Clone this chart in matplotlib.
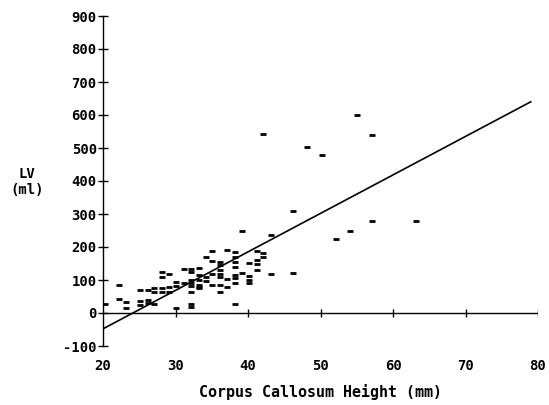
import matplotlib
matplotlib.use("Agg")
import matplotlib.pyplot as plt

# Data (Corpus Callosum Height in mm, LV in ml)
cc_height = [20.3,
             22.2, 22.2,
             23.2, 23.2,
             25.1, 25.1, 25.1,
             26.2, 26.2, 26.2,
             27.1, 27.1, 27.1,
             28.1, 28.1, 28.1, 28.1,
             29.1, 29.1, 29.1,
             30.1, 30.1, 30.1,
             31.2, 31.2,
             32.2, 32.2, 32.2, 32.2, 32.2, 32.2, 32.2, 32.2,
             33.2, 33.2, 33.2, 33.2, 33.2, 33.2,
             34.2, 34.2, 34.2,
             35.1, 35.1, 35.1, 35.1,
             36.1, 36.1, 36.1, 36.1, 36.1, 36.1, 36.1,
             37.1, 37.1, 37.1,
             38.2, 38.2, 38.2, 38.2, 38.2, 38.2, 38.2, 38.2,
             39.2, 39.2,
             40.2, 40.2, 40.2, 40.2,
             41.2, 41.2, 41.2, 41.2,
             42.1, 42.1, 42.1,
             43.2, 43.2,
             46.2, 46.2,
             48.1, 50.2, 52.1, 54.1, 55.0,
             57.1, 57.1,
             63.2]
lv_ml = [26,
         85, 41,
         34, 14,
         70, 37, 24,
         70, 39, 31,
         77, 63, 27,
         125, 110, 77, 63,
         117, 80, 63,
         95, 81, 14,
         133, 90,
         133, 125, 100, 90, 82, 65, 27, 17,
         135, 115, 100, 85, 80, 75,
         171, 110, 98,
         189, 159, 118, 85,
         156, 145, 130, 118, 108, 85, 63,
         191, 102, 78,
         184, 169, 154, 140, 115, 105, 92, 26,
         250, 122,
         152, 112, 100, 92,
         189, 161, 148, 130,
         543, 181, 169,
         237, 118,
         310, 120,
         503, 480, 224, 248, 600,
         540, 278,
         278]

# Regression line end points
fit_x = [20, 79]
fit_y = [-48, 640]

x_ticks = [20, 30, 40, 50, 60, 70, 80]
y_ticks = [-100, 0, 100, 200, 300, 400, 500, 600, 700, 800, 900]

font = {"family": "DejaVu Sans Mono", "weight": "bold"}

fig = plt.figure(figsize=(5.49, 4.05), dpi=100)
ax = fig.add_axes([103 / 549, 59 / 405, 435 / 549, 330 / 405])

ax.set_xlim(20, 80)
ax.set_ylim(-100, 900)

ax.plot(cc_height, lv_ml, linestyle="none", marker="_", markersize=4,
        markeredgewidth=2.0, color="black")
ax.plot(fit_x, fit_y, color="black", linewidth=1.2)

# zero line with crossing ticks
ax.axhline(0, color="black", linewidth=1.0)
ax.vlines(x_ticks[1:], -13, 13, color="black", linewidth=1.0)

for side in ["top", "right", "bottom"]:
    ax.spines[side].set_visible(False)
ax.spines["left"].set_linewidth(1.0)

ax.set_xticks(x_ticks)
ax.set_xticklabels([str(v) for v in x_ticks], fontdict=font, fontsize=10)
ax.tick_params(axis="x", length=0, pad=9)

ax.set_yticks(y_ticks)
ax.set_yticklabels([str(v) for v in y_ticks], fontdict=font, fontsize=10)
ax.tick_params(axis="y", direction="inout", length=7, width=1.0, pad=1)

ax.set_xlabel("Corpus Callosum Height (mm)", fontdict=font, fontsize=10.8,
              labelpad=8)
fig.text(27 / 549, 1 - 182 / 405, "LV\n(ml)", ha="center", va="center",
         fontdict=font, fontsize=10, linespacing=1.2)

fig.savefig("out.png", dpi=100, facecolor="white")
